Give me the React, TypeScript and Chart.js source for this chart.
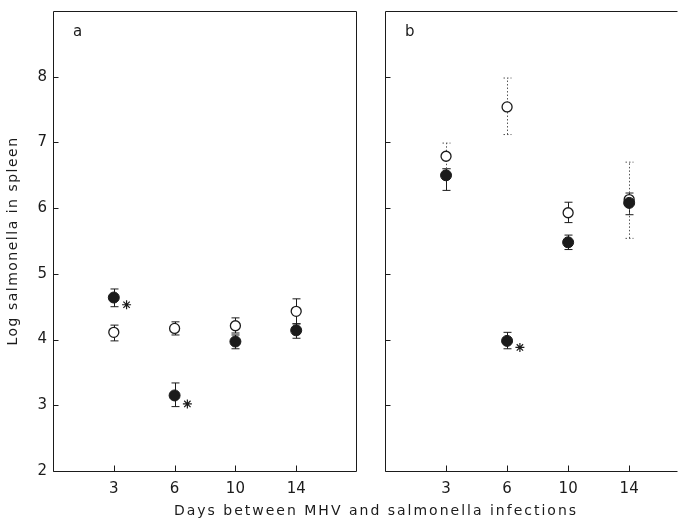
import React, { useEffect, useRef } from 'react';
import { Chart, registerables } from 'chart.js';

Chart.register(...registerables);

// ---- data ----
const categories = ['3', '6', '10', '14'];
const yTicks = [2, 3, 4, 5, 6, 7, 8];

const aFilled = [4.64, 3.15, 3.97, 4.14];
const aFilledLow = [4.5, 2.98, 3.86, 4.02];
const aFilledHigh = [4.77, 3.34, 4.07, 4.24];
const aOpen = [4.11, 4.17, 4.21, 4.43];
const aOpenLow = [3.98, 4.07, 4.1, 4.24];
const aOpenHigh = [4.22, 4.27, 4.33, 4.62];
const aStars = [4.53, 3.02, null, null];

const bFilled = [6.5, 3.98, 5.48, 6.08];
const bFilledLow = [6.27, 3.86, 5.37, 5.9];
const bFilledHigh = [6.6, 4.11, 5.59, 6.23];
const bOpen = [6.79, 7.54, 5.93, 6.13];
const bOpenLow = [6.6, 7.12, 5.78, 5.54];
const bOpenHigh = [6.99, 7.98, 6.09, 6.7];
const bOpenDotted = [true, true, false, true];
const bStars = [null, 3.88, null, null];

const INK = '#1b1b1b';
const FONT = 'DejaVu Sans';
const STAR_OFFSET = 0.21;

function framePlugin(isA: boolean) {
  return {
    id: 'frame' + (isA ? 'A' : 'B'),
    beforeDatasetsDraw(chart: any) {
      const { ctx, chartArea } = chart;
      const { left, right, top, bottom } = chartArea;
      const xs = chart.scales.x;
      const ys = chart.scales.y;
      ctx.save();
      ctx.strokeStyle = INK;
      ctx.lineWidth = 1;
      ctx.beginPath();
      const L = Math.round(left) + 0.5;
      const R = Math.round(right) - 0.5;
      const T = Math.round(top) + 0.5;
      const B = Math.round(bottom) + 0.5;
      ctx.moveTo(L, T); ctx.lineTo(R, T);
      ctx.moveTo(L, B); ctx.lineTo(R, B);
      ctx.moveTo(L, T); ctx.lineTo(L, B);
      if (isA) { ctx.moveTo(R, T); ctx.lineTo(R, B); }
      // inward ticks
      yTicks.forEach((v) => {
        const py = Math.round(ys.getPixelForValue(v)) + 0.5;
        ctx.moveTo(L, py); ctx.lineTo(L + 5, py);
      });
      categories.forEach((_, i) => {
        const px = Math.round(xs.getPixelForValue(i + 1)) + 0.5;
        ctx.moveTo(px, B); ctx.lineTo(px, B - 6);
      });
      ctx.stroke();

      // error bars
      const none = [false, false, false, false];
      const sets = isA
        ? [
            { low: aFilledLow, high: aFilledHigh, dotted: none },
            { low: aOpenLow, high: aOpenHigh, dotted: none },
          ]
        : [
            { low: bFilledLow, high: bFilledHigh, dotted: none },
            { low: bOpenLow, high: bOpenHigh, dotted: bOpenDotted },
          ];
      sets.forEach((s) => {
        s.low.forEach((lo, i) => {
          const hi = s.high[i];
          const px = Math.round(xs.getPixelForValue(i + 1)) + 0.5;
          const y1 = ys.getPixelForValue(lo);
          const y2 = ys.getPixelForValue(hi);
          ctx.save();
          if (s.dotted[i]) {
            ctx.setLineDash([1.5, 2]);
            ctx.strokeStyle = '#555';
          }
          ctx.beginPath();
          ctx.moveTo(px, y1); ctx.lineTo(px, y2);
          ctx.moveTo(px - 4, y1); ctx.lineTo(px + 4, y1);
          ctx.moveTo(px - 4, y2); ctx.lineTo(px + 4, y2);
          ctx.stroke();
          ctx.restore();
        });
      });

      // panel letter
      ctx.fillStyle = INK;
      ctx.font = `15px "${FONT}"`;
      ctx.textAlign = 'left';
      ctx.textBaseline = 'middle';
      ctx.fillText(isA ? 'a' : 'b', left + 20, top + 21);
      ctx.restore();
    },
    afterDraw(chart: any) {
      if (!isA) return;
      const { ctx } = chart;
      ctx.save();
      ctx.fillStyle = INK;
      ctx.font = `14px "${FONT}"`;
      ctx.textAlign = 'center';
      ctx.textBaseline = 'middle';
      (ctx as any).letterSpacing = '2px';
      ctx.fillText('Days between MHV and salmonella infections', 376, 511);
      (ctx as any).letterSpacing = '1.5px';
      ctx.translate(13, 241);
      ctx.rotate(-Math.PI / 2);
      ctx.fillText('Log salmonella in spleen', 0, 0);
      ctx.restore();
    },
  };
}

function buildConfig(isA: boolean): any {
  const filled = isA ? aFilled : bFilled;
  const open = isA ? aOpen : bOpen;
  const stars = isA ? aStars : bStars;
  const tickFont = { family: FONT, size: 15 };
  return {
    type: 'scatter',
    data: {
      datasets: [
        {
          label: 'filled',
          data: filled.map((v, i) => ({ x: i + 1, y: v })),
          pointRadius: 5.5,
          pointBackgroundColor: INK,
          pointBorderColor: INK,
          pointBorderWidth: 1,
        },
        {
          label: 'open',
          data: open.map((v, i) => ({ x: i + 1, y: v })),
          pointRadius: 5,
          pointBackgroundColor: '#ffffff',
          pointBorderColor: INK,
          pointBorderWidth: 1.3,
        },
        {
          label: 'significant',
          data: stars
            .map((v, i) => (v == null ? null : { x: i + 1 + STAR_OFFSET, y: v }))
            .filter((p) => p !== null),
          pointStyle: 'star',
          pointRadius: 4.5,
          pointBorderColor: INK,
          pointBorderWidth: 1.2,
        },
      ],
    },
    options: {
      responsive: false,
      animation: false,
      devicePixelRatio: 1,
      layout: {
        autoPadding: false,
        padding: isA
          ? { left: 0, right: 321, top: 11, bottom: 0 }
          : { left: 385, right: 0, top: 11, bottom: 0 },
      },
      plugins: { legend: { display: false }, tooltip: { enabled: false } },
      scales: {
        x: {
          type: 'linear',
          min: 0,
          max: isA ? 5 : 4.8,
          grid: { display: false, drawTicks: false },
          border: { display: false },
          afterBuildTicks: (s: any) => {
            s.ticks = categories.map((_, i) => ({ value: i + 1 }));
          },
          afterFit: (s: any) => {
            s.height = 52;
            s.paddingLeft = 0;
            s.paddingRight = 0;
          },
          ticks: {
            callback: (v: any) => categories[Number(v) - 1] ?? '',
            padding: 9,
            font: tickFont,
            color: INK,
            autoSkip: false,
            maxRotation: 0,
          },
        },
        y: {
          type: 'linear',
          min: 2,
          max: 9,
          grid: { display: false, drawTicks: false },
          border: { display: false },
          afterBuildTicks: (s: any) => {
            s.ticks = yTicks.map((v) => ({ value: v }));
          },
          afterFit: (s: any) => {
            s.width = isA ? 53 : 0;
            s.paddingTop = 0;
            s.paddingBottom = 0;
          },
          ticks: {
            display: isA,
            padding: 6,
            font: tickFont,
            color: INK,
          },
        },
      },
    },
    plugins: [framePlugin(isA)],
  };
}

export default function App() {
  const refA = useRef<HTMLCanvasElement>(null);
  const refB = useRef<HTMLCanvasElement>(null);
  useEffect(() => {
    const a = new Chart(refA.current as HTMLCanvasElement, buildConfig(true));
    const b = new Chart(refB.current as HTMLCanvasElement, buildConfig(false));
    return () => {
      a.destroy();
      b.destroy();
    };
  }, []);
  return (
    <div
      style={{
        position: 'absolute',
        left: 0,
        top: 0,
        width: 678,
        height: 523,
        background: '#fff',
        overflow: 'hidden',
      }}
    >
      <canvas ref={refA} width={678} height={523} style={{ position: 'absolute', left: 0, top: 0 }} />
      <canvas ref={refB} width={678} height={523} style={{ position: 'absolute', left: 0, top: 0 }} />
    </div>
  );
}
